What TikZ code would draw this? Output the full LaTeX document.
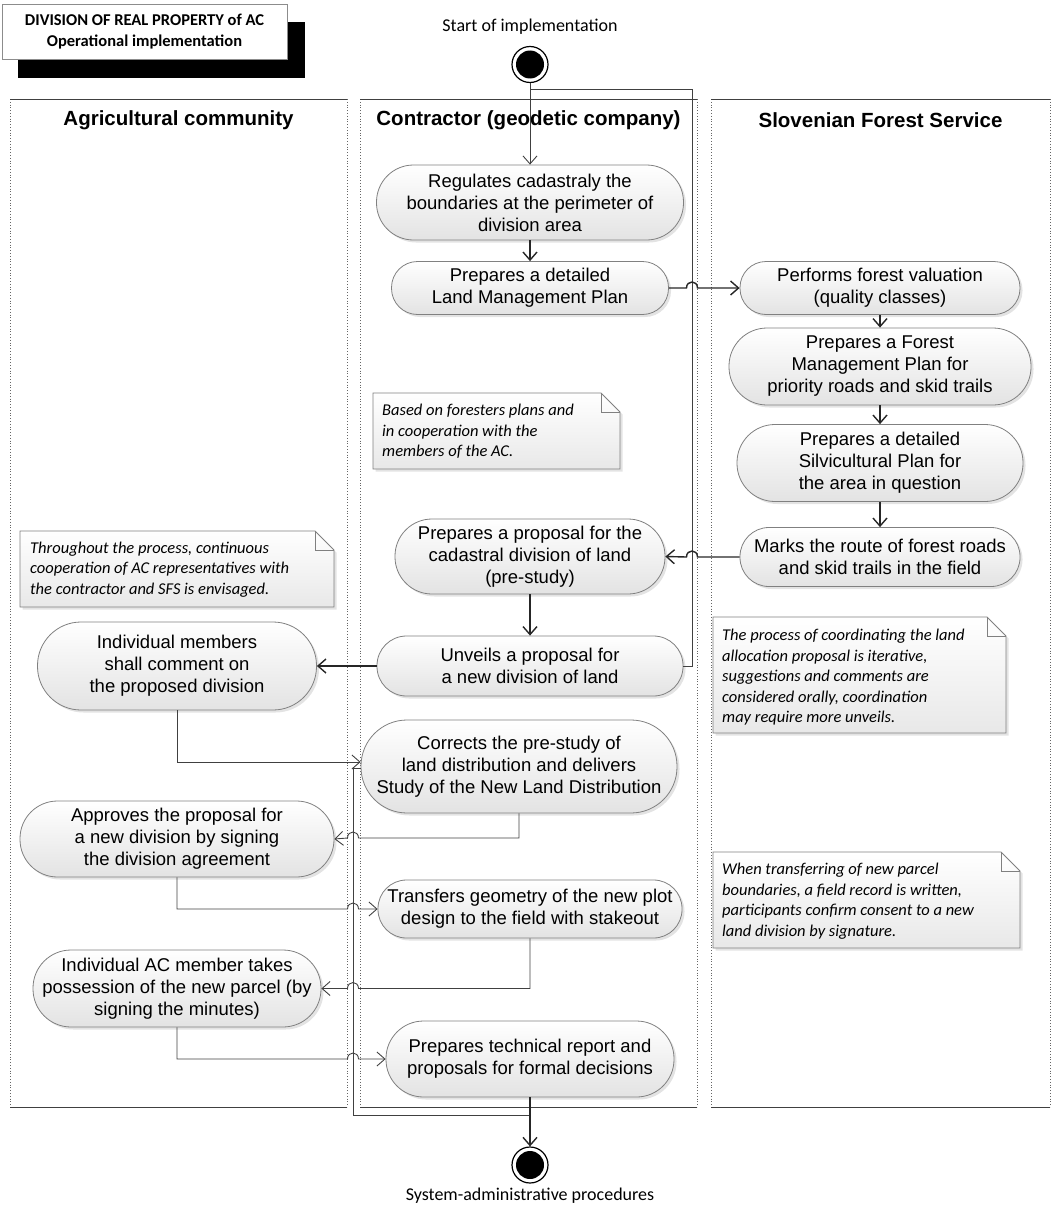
\documentclass[tikz,border=0pt]{standalone}
\usepackage{fontspec}
\setmainfont{Liberation Sans}
\newfontfamily\calfont{Carlito}
\usetikzlibrary{arrows.meta,shadows,calc}
\begin{document}
\begin{tikzpicture}[x=1pt,y=1pt,
  act/.style={rectangle, draw=black!50, line width=0.8pt, top color=white, bottom color=black!11,
    drop shadow={shadow xshift=2.5pt, shadow yshift=-2.5pt, opacity=0.22},
    align=center, inner sep=0pt, font=\fontsize{18.5pt}{22pt}\selectfont},
  con/.style={draw=black!85, line width=1.4pt},
  conthin/.style={draw=black!75, line width=0.9pt},
  arr/.style={-{Straight Barb[length=8pt,width=14pt]}},
  notebox/.style={draw=black!50, line width=0.8pt, top color=white, bottom color=black!9,
    drop shadow={shadow xshift=2.5pt, shadow yshift=-2.5pt, opacity=0.22}},
  notetext/.style={anchor=west, align=left, inner sep=0pt, font=\calfont\itshape\fontsize{16.5pt}{20.5pt}\selectfont},
  lanetitle/.style={font=\bfseries\fontsize{20.5pt}{24pt}\selectfont, inner sep=0pt},
  lanetop/.style={draw=black!75, line width=0.9pt},
  laneside/.style={draw=black!60, dotted, line width=0.8pt},
  term/.style={circle, draw=black, line width=1.2pt, fill=white, minimum size=36pt, inner sep=0pt,
    path picture={\fill[black] (path picture bounding box.center) circle (14pt);}},
  termlabel/.style={font=\calfont\fontsize{18pt}{22pt}\selectfont, inner sep=0pt}
  ]
\useasboundingbox (0,0) rectangle (1055,-1215);

% title box
\fill[black] (18,-22) rectangle (305,-78);
\node[draw=black!45, fill=white, minimum width=285pt, minimum height=55pt, inner sep=0pt, align=center,
  font=\calfont\bfseries\fontsize{16.5pt}{21pt}\selectfont] (title) at (144.5,-31.5)
  {DIVISION OF REAL PROPERTY of AC\\Operational implementation};

% lanes
\foreach \a/\b in {10/347, 360/697, 711/1050}{
  \draw[laneside] (\a,-99) -- (\a,-1107);
  \draw[laneside] (\b,-99) -- (\b,-1107);
  \draw[lanetop] (\a,-99) -- (\b,-99);
  \draw[lanetop] (\a,-1107) -- (\b,-1107);
}
\node[lanetitle] (L1) at (178.5,-120) {Agricultural community};
\node[lanetitle] (L2) at (528.5,-120) {Contractor (geodetic company)};
\node[lanetitle] (L3) at (880.5,-120) {Slovenian Forest Service};

% start / end
\node[termlabel] (startlbl) at (530,-27) {Start of implementation};
\node[term] (start) at (530,-64.5) {};
\node[term] (endn) at (530,-1165) {};
\node[termlabel] (endlbl) at (530,-1196) {System-administrative procedures};

% contractor lane
\node[act, minimum width=307pt, minimum height=75pt, rounded corners=37pt] (B1) at (530,-202.5)
  {Regulates cadastraly the\\boundaries at the perimeter of\\division area};
\node[act, minimum width=277pt, minimum height=53pt, rounded corners=26pt] (B2) at (530,-288)
  {Prepares a detailed\\Land Management Plan};
\node[act, minimum width=270pt, minimum height=75pt, rounded corners=37pt] (B3) at (530,-556.5)
  {Prepares a proposal for the\\cadastral division of land\\(pre-study)};
\node[act, minimum width=306pt, minimum height=60pt, rounded corners=29.5pt] (B4) at (530,-666)
  {Unveils a proposal for\\a new division of land};
\node[act, minimum width=316pt, minimum height=93pt, rounded corners=46pt] (B5) at (519,-766.5)
  {Corrects the pre-study of\\land distribution and delivers\\Study of the New Land Distribution};
\node[act, minimum width=304pt, minimum height=58pt, rounded corners=28.5pt] (B6) at (530,-909)
  {Transfers geometry of the new plot\\design to the field with stakeout};
\node[act, minimum width=288pt, minimum height=76pt, rounded corners=37.5pt] (B7) at (530,-1059)
  {Prepares technical report and\\proposals for formal decisions};

% forest service lane
\node[act, minimum width=280pt, minimum height=53pt, rounded corners=26pt] (C1) at (880,-288)
  {Performs forest valuation\\(quality classes)};
\node[act, minimum width=302pt, minimum height=77pt, rounded corners=38pt] (C2) at (880,-366.5)
  {Prepares a Forest\\Management Plan for\\priority roads and skid trails};
\node[act, minimum width=286pt, minimum height=77pt, rounded corners=38pt] (C3) at (880,-463)
  {Prepares a detailed\\Silvicultural Plan for\\the area in question};
\node[act, minimum width=280pt, minimum height=59pt, rounded corners=29pt] (C4) at (880,-557)
  {Marks the route of forest roads\\and skid trails in the field};

% community lane
\node[act, minimum width=279pt, minimum height=88pt, rounded corners=43.5pt] (A1) at (177,-666)
  {Individual members\\shall comment on\\the proposed division};
\node[act, minimum width=314pt, minimum height=76pt, rounded corners=37.5pt] (A2) at (177,-839)
  {Approves the proposal for\\a new division by signing\\the division agreement};
\node[act, minimum width=288pt, minimum height=77pt, rounded corners=38pt] (A3) at (177,-988.5)
  {Individual AC member takes\\possession of the new parcel (by\\signing the minutes)};

% notes
\path[notebox] (373,-393) -- (601,-393) -- (620,-412) -- (620,-469) -- (373,-469) -- cycle;
\draw[draw=black!50, line width=0.8pt] (601,-393) -- (601,-412) -- (620,-412);
\node[notetext] (N1) at (382,-431.5) {Based on foresters plans and\\in cooperation with the\\members of the AC.};

\path[notebox] (20,-531) -- (315,-531) -- (334,-550) -- (334,-607) -- (20,-607) -- cycle;
\draw[draw=black!50, line width=0.8pt] (315,-531) -- (315,-550) -- (334,-550);
\node[notetext] (N2) at (30,-569.5) {Throughout the process, continuous\\cooperation of AC representatives with\\the contractor and SFS is envisaged.};

\path[notebox] (713,-617) -- (987,-617) -- (1006,-636) -- (1006,-733) -- (713,-733) -- cycle;
\draw[draw=black!50, line width=0.8pt] (987,-617) -- (987,-636) -- (1006,-636);
\node[notetext] (N3) at (722,-677.5) {The process of coordinating the land\\allocation proposal is iterative,\\suggestions and comments are\\considered orally, coordination\\may require more unveils.};

\path[notebox] (713,-852) -- (1001,-852) -- (1020,-871) -- (1020,-948) -- (713,-948) -- cycle;
\draw[draw=black!50, line width=0.8pt] (1001,-852) -- (1001,-871) -- (1020,-871);
\node[notetext] (N4) at (722,-901) {When transferring of new parcel\\boundaries, a field record is written,\\participants confirm consent to a new\\land division by signature.};

% connectors
\draw[conthin,arr] (start.south) -- (B1.north);
\draw[conthin] (B4.east) -- (692,-666) -- (692,-89) -- (530,-89);
\draw[con,arr] (B1.south) -- (B2.north);
\draw[con,arr] (B2.east) -- (686.5,-288) .. controls (686.5,-280) and (697.5,-280) .. (697.5,-288) -- (C1.west);
\draw[con,arr] (C1.south) -- (C2.north);
\draw[con,arr] (C2.south) -- (C3.north);
\draw[con,arr] (C3.south) -- (C4.north);
\draw[con,arr] (C4.west) -- (697.5,-557) .. controls (697.5,-549) and (686.5,-549) .. (686.5,-557) -- (B3.east);
\draw[con,arr] (B3.south) -- (B4.north);
\draw[con,arr] (B4.west) -- (A1.east);
\draw[conthin,arr] (A1.south) |- ($(B5.west)+(0,4.5)$);
\draw[conthin] ($(B5.west)+(0,-2)$) -- (353,-768.5) -- (353,-1115) -- (530,-1115);
\draw[conthin,arr] (B5.south) -- (519,-838) -- (358.5,-838) .. controls (358.5,-830) and (347.5,-830) .. (347.5,-838) -- (A2.east);
\draw[conthin,arr] (A2.south) -- (177,-909) -- (347.5,-909) .. controls (347.5,-901) and (358.5,-901) .. (358.5,-909) -- (B6.west);
\draw[conthin,arr] (B6.south) -- (530,-988.5) -- (358.5,-988.5) .. controls (358.5,-980.5) and (347.5,-980.5) .. (347.5,-988.5) -- (A3.east);
\draw[conthin,arr] (A3.south) -- (177,-1059) -- (347.5,-1059) .. controls (347.5,-1051) and (358.5,-1051) .. (358.5,-1059) -- (B7.west);
\draw[con,arr] (B7.south) -- (endn.north);
\end{tikzpicture}
\end{document}
